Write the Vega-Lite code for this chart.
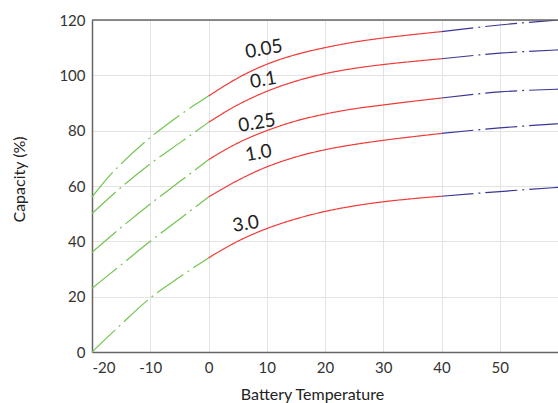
{
  "$schema": "https://vega.github.io/schema/vega-lite/v6.json",
  "width": 466,
  "height": 332,
  "autosize": "none",
  "padding": {"left": 92, "top": 20, "right": 0, "bottom": 51},
  "config": {
    "font": "Lato",
    "view": {"stroke": null},
    "axis": {
      "labelFont": "Lato", "titleFont": "Lato", "labelFontSize": 15, "titleFontSize": 16,
      "labelColor": "#333333", "titleColor": "#222222", "titleFontWeight": "normal",
      "gridColor": "#e3e3e3", "domainColor": "#666666", "domainWidth": 1.5, "ticks": false
    }
  },
  "datasets": {
    "curves": [
      {"c":"0.05","s":"low","x":-20,"y":56},{"c":"0.05","s":"low","x":-17.5,"y":62.5},{"c":"0.05","s":"low","x":-15,"y":68},{"c":"0.05","s":"low","x":-10,"y":77.5},{"c":"0.05","s":"low","x":-5,"y":85.5},{"c":"0.05","s":"low","x":0,"y":92.5},
      {"c":"0.05","s":"mid","x":0,"y":92.5},{"c":"0.05","s":"mid","x":5,"y":99},{"c":"0.05","s":"mid","x":10,"y":104},{"c":"0.05","s":"mid","x":15,"y":107.5},{"c":"0.05","s":"mid","x":20,"y":110},{"c":"0.05","s":"mid","x":25,"y":112},{"c":"0.05","s":"mid","x":30,"y":113.5},{"c":"0.05","s":"mid","x":35,"y":114.7},{"c":"0.05","s":"mid","x":40,"y":115.8},
      {"c":"0.05","s":"high","x":40,"y":115.8},{"c":"0.05","s":"high","x":50,"y":118.2},{"c":"0.05","s":"high","x":60,"y":120},
      {"c":"0.1","s":"low","x":-20,"y":50},{"c":"0.1","s":"low","x":-15,"y":59.5},{"c":"0.1","s":"low","x":-10,"y":68},{"c":"0.1","s":"low","x":-5,"y":75.5},{"c":"0.1","s":"low","x":0,"y":83},
      {"c":"0.1","s":"mid","x":0,"y":83},{"c":"0.1","s":"mid","x":5,"y":89.3},{"c":"0.1","s":"mid","x":10,"y":94.2},{"c":"0.1","s":"mid","x":15,"y":97.9},{"c":"0.1","s":"mid","x":20,"y":100.6},{"c":"0.1","s":"mid","x":25,"y":102.5},{"c":"0.1","s":"mid","x":30,"y":103.9},{"c":"0.1","s":"mid","x":35,"y":105},{"c":"0.1","s":"mid","x":40,"y":106},
      {"c":"0.1","s":"high","x":40,"y":106},{"c":"0.1","s":"high","x":50,"y":108},{"c":"0.1","s":"high","x":60,"y":109.2},
      {"c":"0.25","s":"low","x":-20,"y":36},{"c":"0.25","s":"low","x":-15,"y":45},{"c":"0.25","s":"low","x":-10,"y":53.5},{"c":"0.25","s":"low","x":-5,"y":61.5},{"c":"0.25","s":"low","x":0,"y":69.5},
      {"c":"0.25","s":"mid","x":0,"y":69.5},{"c":"0.25","s":"mid","x":5,"y":75.5},{"c":"0.25","s":"mid","x":10,"y":80},{"c":"0.25","s":"mid","x":15,"y":83.5},{"c":"0.25","s":"mid","x":20,"y":86},{"c":"0.25","s":"mid","x":25,"y":87.9},{"c":"0.25","s":"mid","x":30,"y":89.3},{"c":"0.25","s":"mid","x":35,"y":90.6},{"c":"0.25","s":"mid","x":40,"y":91.8},
      {"c":"0.25","s":"high","x":40,"y":91.8},{"c":"0.25","s":"high","x":50,"y":94},{"c":"0.25","s":"high","x":60,"y":95},
      {"c":"1.0","s":"low","x":-20,"y":23},{"c":"1.0","s":"low","x":-15,"y":31.5},{"c":"1.0","s":"low","x":-10,"y":40},{"c":"1.0","s":"low","x":-5,"y":48},{"c":"1.0","s":"low","x":0,"y":56},
      {"c":"1.0","s":"mid","x":0,"y":56},{"c":"1.0","s":"mid","x":5,"y":62},{"c":"1.0","s":"mid","x":10,"y":66.9},{"c":"1.0","s":"mid","x":15,"y":70.5},{"c":"1.0","s":"mid","x":20,"y":73.1},{"c":"1.0","s":"mid","x":25,"y":75},{"c":"1.0","s":"mid","x":30,"y":76.5},{"c":"1.0","s":"mid","x":35,"y":77.8},{"c":"1.0","s":"mid","x":40,"y":79},
      {"c":"1.0","s":"high","x":40,"y":79},{"c":"1.0","s":"high","x":50,"y":81},{"c":"1.0","s":"high","x":60,"y":82.5},
      {"c":"3.0","s":"low","x":-20,"y":0},{"c":"3.0","s":"low","x":-15,"y":10},{"c":"3.0","s":"low","x":-10,"y":19.5},{"c":"3.0","s":"low","x":-5,"y":27},{"c":"3.0","s":"low","x":0,"y":34},
      {"c":"3.0","s":"mid","x":0,"y":34},{"c":"3.0","s":"mid","x":5,"y":40},{"c":"3.0","s":"mid","x":10,"y":44.6},{"c":"3.0","s":"mid","x":15,"y":48.1},{"c":"3.0","s":"mid","x":20,"y":50.8},{"c":"3.0","s":"mid","x":25,"y":52.8},{"c":"3.0","s":"mid","x":30,"y":54.3},{"c":"3.0","s":"mid","x":35,"y":55.4},{"c":"3.0","s":"mid","x":40,"y":56.3},
      {"c":"3.0","s":"high","x":40,"y":56.3},{"c":"3.0","s":"high","x":50,"y":58},{"c":"3.0","s":"high","x":60,"y":59.5}
    ],
    "labels": [
      {"t":"0.05","x":9.5,"y":109.5},
      {"t":"0.1","x":9.4,"y":98.3},
      {"t":"0.25","x":8.3,"y":82.8},
      {"t":"1.0","x":8.6,"y":71.9},
      {"t":"3.0","x":6.4,"y":46.3}
    ],
    "top": [{"y":120}]
  },
  "layer": [
    {
      "data": {"name": "curves"},
      "mark": {"type": "line", "interpolate": "monotone", "strokeWidth": 1.2, "clip": true},
      "encoding": {
        "x": {"field": "x", "type": "quantitative", "scale": {"domain": [-20, 60], "nice": false},
              "axis": {"values": [-20,-10,0,10,20,30,40,50], "title": "Battery Temperature", "titleX": 220, "titleY": 34, "titleBaseline": "top", "titleAlign": "center", "labelPadding": 8, "grid": true, "labelExpr": "datum.value < 0 ? '-' + abs(datum.value) : datum.label"}},
        "y": {"field": "y", "type": "quantitative", "scale": {"domain": [0, 120], "nice": false},
              "axis": {"values": [0,20,40,60,80,100,120], "title": "Capacity (%)", "titleX": -65, "titleY": 159, "titleAlign": "center", "titleAngle": -90, "titleBaseline": "bottom", "labelPadding": 7, "grid": true}},
        "detail": {"field": "c"},
        "color": {"field": "s", "type": "nominal", "scale": {"domain": ["low","mid","high"], "range": ["#72c450","#f03a36","#3b3696"]}, "legend": null},
        "strokeDash": {"field": "s", "type": "nominal", "scale": {"domain": ["low","mid","high"], "range": [[32,5,2,5],[1,0],[32,5,2,5]]}, "legend": null}
      }
    },
    {
      "data": {"name": "top"},
      "mark": {"type": "rule", "color": "#666666", "strokeWidth": 1.5},
      "encoding": {"y": {"field": "y", "type": "quantitative"}}
    },
    {
      "data": {"name": "labels"},
      "mark": {"type": "text", "font": "Lato", "fontSize": 19, "angle": -10, "color": "#222222", "align": "center", "baseline": "middle"},
      "encoding": {
        "x": {"field": "x", "type": "quantitative"},
        "y": {"field": "y", "type": "quantitative"},
        "text": {"field": "t"}
      }
    }
  ]
}
